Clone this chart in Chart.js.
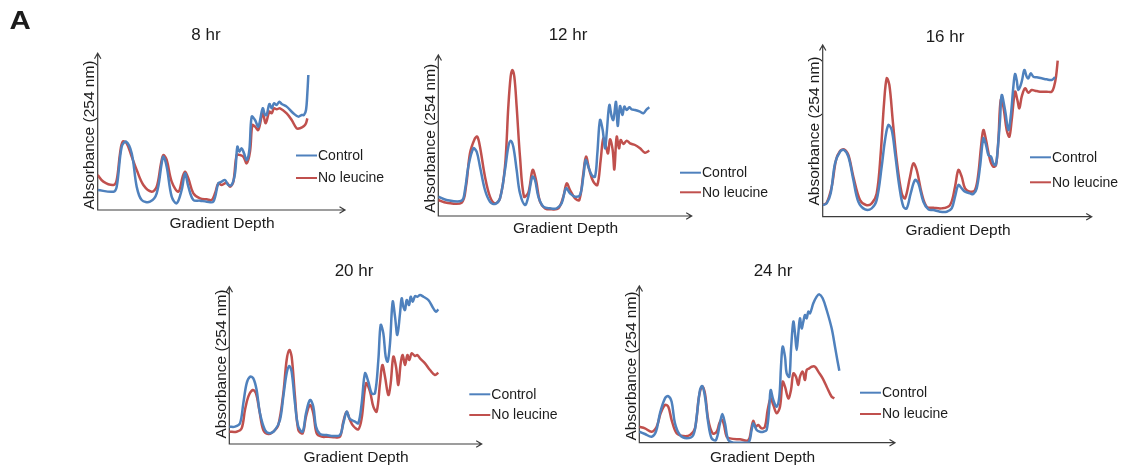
<!DOCTYPE html>
<html>
<head>
<meta charset="utf-8">
<script src="https://cdn.jsdelivr.net/npm/chart.js@4.4.1/dist/chart.umd.min.js"></script>
<style>
  html, body { margin: 0; padding: 0; background: #fff; }
  #page { position: relative; width: 1128px; height: 467px; overflow: hidden; }
  .panel { position: absolute; }
</style>
</head>
<body>
<div id="page"></div>
<script>
var seriesLabels = ['Control', 'No leucine'];
var seriesColors = ['#4f81bd', '#c0504d'];
var panelTitles = ['8 hr', '12 hr', '16 hr', '20 hr', '24 hr'];
var xTitle = 'Gradient Depth';
var yTitle = 'Absorbance (254 nm)';

// [gradient depth, absorbance] (arbitrary units)
var ctl8 = [[0,60],[47,55],[57,70],[72,190],[85,205],[102,170],[117,70],[132,30],[157,25],[177,50],[192,140],[197,160],[207,130],[222,40],[237,20],[252,60],[262,110],[272,70],[287,30],[307,28],[327,25],[347,25],[362,80],[372,85],[382,90],[392,75],[402,75],[412,110],[419,190],[425,175],[432,185],[439,170],[447,150],[455,180],[462,280],[472,270],[482,250],[495,305],[502,285],[507,285],[515,318],[522,305],[529,320],[537,315],[545,325],[552,318],[567,310],[587,290],[602,280],[612,285],[619,285],[625,300],[629,350],[632,405]];
var noLeu8 = [[0,105],[17,85],[47,75],[57,90],[67,170],[75,205],[87,200],[102,160],[117,120],[137,75],[162,55],[177,70],[190,140],[197,165],[207,150],[222,85],[242,55],[255,100],[262,115],[272,95],[287,50],[307,35],[327,32],[342,30],[352,50],[362,80],[372,75],[387,82],[397,70],[407,85],[417,165],[427,165],[437,160],[447,140],[457,175],[464,255],[472,250],[482,240],[495,290],[504,260],[515,295],[522,290],[529,305],[537,302],[547,305],[567,290],[582,270],[597,245],[607,245],[619,252],[625,260],[629,275]];

var ctl12 = [[0,58],[25,48],[70,46],[80,78],[90,148],[105,203],[115,193],[125,148],[140,78],[155,43],[170,36],[185,53],[200,138],[210,208],[217,226],[225,208],[235,138],[245,68],[260,33],[270,58],[282,118],[290,108],[300,58],[315,28],[335,23],[355,23],[370,38],[383,83],[395,68],[410,58],[425,63],[435,118],[442,168],[450,148],[460,123],[470,118],[477,188],[485,288],[493,258],[500,203],[505,248],[513,333],[520,298],[525,288],[533,343],[538,270],[545,330],[552,303],[558,328],[565,318],[573,326],[580,320],[590,318],[605,313],[615,308],[625,320],[633,326]];
var noLeu12 = [[0,48],[25,40],[70,40],[83,88],[95,188],[110,233],[117,238],[125,208],[140,118],[155,58],[170,38],[185,53],[200,148],[210,328],[217,418],[222,438],[228,418],[235,328],[245,178],[257,58],[270,70],[283,138],[293,108],[305,43],[320,23],[340,20],[360,23],[375,58],[385,98],[395,78],[410,53],[423,48],[435,128],[443,178],[453,138],[465,103],[477,93],[487,168],[495,233],[503,208],[509,188],[515,230],[523,198],[528,140],[535,238],[542,203],[547,228],[555,216],[565,226],[575,218],[590,213],[605,203],[620,190],[633,196]];

var ctl16 = [[0,35],[12,40],[24,70],[37,160],[52,195],[64,200],[77,180],[92,110],[107,45],[127,22],[147,25],[162,50],[177,150],[187,230],[197,275],[207,260],[217,190],[230,90],[242,30],[252,25],[264,70],[277,110],[287,100],[302,45],[317,22],[332,20],[352,15],[372,15],[387,25],[397,60],[407,95],[417,85],[427,75],[442,70],[452,68],[462,85],[472,150],[482,235],[490,215],[497,185],[505,180],[512,160],[519,155],[524,190],[532,290],[537,365],[547,320],[557,260],[564,300],[572,390],[577,428],[582,410],[587,380],[597,405],[605,440],[612,420],[617,415],[624,430],[632,420],[642,418],[657,415],[672,412],[687,410],[697,418]];
var noLeu16 = [[0,35],[12,42],[27,90],[40,170],[52,197],[64,202],[77,185],[92,120],[112,50],[130,35],[147,40],[162,70],[174,190],[184,340],[192,415],[200,395],[210,290],[222,170],[237,70],[247,55],[262,120],[272,160],[282,140],[297,70],[312,30],[332,27],[357,25],[382,35],[397,90],[407,140],[417,120],[427,85],[442,75],[457,80],[467,130],[475,210],[482,260],[490,230],[502,170],[512,150],[520,155],[527,230],[534,350],[542,330],[552,260],[560,240],[567,290],[577,375],[584,350],[590,325],[597,360],[607,385],[617,372],[627,380],[637,378],[652,375],[672,375],[687,375],[694,390],[700,420],[705,468]];

var ctl20 = [[0,52],[17,52],[32,62],[42,122],[52,182],[62,202],[72,197],[82,162],[92,92],[107,42],[122,32],[137,42],[152,72],[162,142],[172,212],[180,234],[187,217],[197,122],[207,52],[220,37],[230,92],[242,132],[252,112],[260,52],[272,30],[292,27],[312,24],[332,27],[342,62],[352,97],[360,77],[367,72],[377,67],[387,62],[397,122],[407,212],[417,187],[427,152],[437,152],[447,252],[454,357],[462,332],[469,262],[475,247],[482,302],[490,427],[497,382],[504,327],[512,392],[517,437],[522,412],[527,402],[532,432],[539,417],[544,442],[550,427],[557,444],[564,442],[572,447],[582,442],[597,432],[612,407],[620,397],[627,404]];
var noLeu20 = [[0,37],[22,37],[37,47],[47,102],[57,142],[70,162],[80,152],[90,102],[102,42],[117,30],[132,37],[147,57],[162,152],[172,252],[180,282],[187,262],[197,142],[207,42],[220,32],[230,82],[242,117],[252,92],[262,32],[277,22],[297,22],[317,20],[332,22],[342,67],[352,97],[362,72],[372,54],[387,44],[397,77],[410,182],[422,157],[432,112],[442,97],[452,182],[459,237],[467,202],[477,147],[484,182],[492,262],[500,232],[507,177],[514,242],[520,267],[527,237],[534,267],[540,252],[547,272],[557,264],[564,267],[572,257],[587,242],[602,222],[617,207],[627,214]];

var ctl24 = [[0,33],[17,26],[37,18],[50,33],[62,88],[77,133],[87,140],[97,123],[107,58],[122,23],[142,13],[162,23],[172,78],[182,158],[189,170],[197,138],[207,58],[217,13],[230,8],[242,58],[249,86],[257,58],[267,8],[282,0],[302,0],[327,0],[337,38],[342,58],[352,38],[362,33],[372,33],[382,38],[390,108],[394,158],[402,128],[412,108],[420,138],[425,228],[430,288],[437,258],[442,208],[450,198],[455,278],[462,363],[467,328],[472,278],[477,328],[482,373],[487,343],[492,363],[497,383],[502,373],[507,393],[512,388],[522,418],[532,438],[540,445],[550,433],[562,398],[577,343],[587,288],[594,248],[600,216]];
var noLeu24 = [[0,48],[17,43],[37,33],[52,48],[64,88],[77,113],[87,108],[97,68],[112,28],[132,20],[152,23],[167,43],[179,138],[189,168],[197,148],[207,68],[220,28],[232,33],[240,58],[247,70],[254,53],[262,18],[272,13],[302,10],[327,8],[337,48],[342,66],[349,48],[357,53],[367,43],[377,48],[385,98],[394,133],[402,113],[412,88],[422,108],[430,183],[437,168],[447,133],[455,158],[462,208],[470,198],[477,173],[482,198],[490,213],[497,188],[502,218],[510,223],[517,228],[527,228],[537,213],[550,193],[562,168],[577,138],[585,133]];

// layout, all in page pixels: box = canvas [left, top, w, h], area = axes [left, top, right, bottom]
var panels = [
  { title: panelTitles[0], series: [ctl8, noLeu8], xMax: 742, yMax: 470,
    box: [0, 0, 392, 240], area: [97.7, 53.3, 345, 210],
    titleAt: [206, 40], xTitleAt: [222, 228], yTitleAt: [94, 135],
    legendAt: [296, 155.5, 22.5], tag: 'A' },
  { title: panelTitles[1], series: [ctl12, noLeu12], xMax: 760, yMax: 483,
    box: [395, 0, 380, 240], area: [438.3, 55, 691.7, 216],
    titleAt: [568, 40], xTitleAt: [565.5, 233], yTitleAt: [434.8, 138.3],
    legendAt: [680, 172.7, 19.6] },
  { title: panelTitles[2], series: [ctl16, noLeu16], xMax: 807, yMax: 515,
    box: [780, 0, 348, 240], area: [822.7, 45, 1091.7, 216.7],
    titleAt: [945, 41.5], xTitleAt: [958, 235], yTitleAt: [819.2, 131],
    legendAt: [1030, 157.3, 25] },
  { title: panelTitles[3], series: [ctl20, noLeu20], xMax: 757, yMax: 472,
    box: [180, 245, 400, 222], area: [229.3, 286.7, 481.7, 444],
    titleAt: [354, 276], xTitleAt: [356, 461.5], yTitleAt: [225.8, 364],
    legendAt: [469.3, 394.3, 20.7] },
  { title: panelTitles[4], series: [ctl24, noLeu24], xMax: 767, yMax: 470,
    box: [590, 245, 410, 222], area: [639.3, 286, 895, 442.7],
    titleAt: [773, 276], xTitleAt: [762.5, 461.5], yTitleAt: [635.8, 366],
    legendAt: [860, 392.7, 21.3] }
];

var FONT = '"Liberation Sans", Arial, sans-serif';
var INK = '#1c1c1c';

// axes with open arrowheads, titles and the little legend
var decor = {
  id: 'decor',
  beforeDatasetsDraw: function (chart, args, opts) {
    var ctx = chart.ctx, a = chart.chartArea;
    ctx.save();
    ctx.strokeStyle = '#3c3c3c';
    ctx.lineWidth = 1.2;
    ctx.beginPath();
    ctx.moveTo(a.left, a.top);
    ctx.lineTo(a.left, a.bottom);
    ctx.lineTo(a.right, a.bottom);
    ctx.moveTo(a.left - 3.2, a.top + 5.5);
    ctx.lineTo(a.left, a.top);
    ctx.lineTo(a.left + 3.2, a.top + 5.5);
    ctx.moveTo(a.right - 5.5, a.bottom - 3.2);
    ctx.lineTo(a.right, a.bottom);
    ctx.lineTo(a.right - 5.5, a.bottom + 3.2);
    ctx.stroke();
    ctx.restore();
  },
  afterDraw: function (chart, args, opts) {
    var ctx = chart.ctx, p = opts.panel;
    var ox = p.box[0], oy = p.box[1];
    ctx.save();
    ctx.fillStyle = INK;
    ctx.textBaseline = 'alphabetic';
    ctx.textAlign = 'center';

    ctx.font = '17px ' + FONT;
    ctx.fillText(p.title, p.titleAt[0] - ox, p.titleAt[1] - oy);

    ctx.font = '15.5px ' + FONT;
    ctx.fillText(xTitle, p.xTitleAt[0] - ox, p.xTitleAt[1] - oy);

    ctx.save();
    ctx.translate(p.yTitleAt[0] - ox, p.yTitleAt[1] - oy);
    ctx.rotate(-Math.PI / 2);
    ctx.fillText(yTitle, 0, 0);
    ctx.restore();

    if (p.tag) {
      ctx.save();
      ctx.textAlign = 'left';
      ctx.font = 'bold 25px ' + FONT;
      ctx.translate(9.5 - ox, 28.5 - oy);
      ctx.scale(1.18, 1);
      ctx.fillText(p.tag, 0, 0);
      ctx.restore();
    }

    ctx.font = '14px ' + FONT;
    ctx.textAlign = 'left';
    ctx.textBaseline = 'middle';
    chart.data.datasets.forEach(function (ds, i) {
      var lx = p.legendAt[0] - ox, ly = p.legendAt[1] + i * p.legendAt[2] - oy;
      ctx.strokeStyle = ds.borderColor;
      ctx.lineWidth = 2;
      ctx.beginPath();
      ctx.moveTo(lx, ly);
      ctx.lineTo(lx + 21, ly);
      ctx.stroke();
      ctx.fillStyle = INK;
      ctx.fillText(ds.label, lx + 22, ly + 0.5);
    });
    ctx.restore();
  }
};

var page = document.getElementById('page');

panels.forEach(function (p) {
  var div = document.createElement('div');
  div.className = 'panel';
  div.style.left = p.box[0] + 'px';
  div.style.top = p.box[1] + 'px';
  div.style.width = p.box[2] + 'px';
  div.style.height = p.box[3] + 'px';
  var canvas = document.createElement('canvas');
  canvas.width = p.box[2];
  canvas.height = p.box[3];
  div.appendChild(canvas);
  page.appendChild(div);

  new Chart(canvas, {
    type: 'line',
    data: {
      datasets: p.series.map(function (s, i) {
        return {
          label: seriesLabels[i],
          data: s.map(function (d) { return { x: d[0], y: d[1] }; }),
          borderColor: seriesColors[i],
          borderWidth: 2.5,
          pointRadius: 0,
          fill: false,
          tension: 0.35
        };
      })
    },
    options: {
      responsive: false,
      animation: false,
      layout: {
        padding: {
          left: p.area[0] - p.box[0],
          top: p.area[1] - p.box[1],
          right: p.box[0] + p.box[2] - p.area[2],
          bottom: p.box[1] + p.box[3] - p.area[3]
        }
      },
      scales: {
        x: { type: 'linear', min: 0, max: p.xMax, display: false },
        y: { type: 'linear', min: 0, max: p.yMax, display: false }
      },
      plugins: {
        legend: { display: false },
        tooltip: { enabled: false },
        decor: { panel: p }
      }
    },
    plugins: [decor]
  });
});
</script>
</body>
</html>
